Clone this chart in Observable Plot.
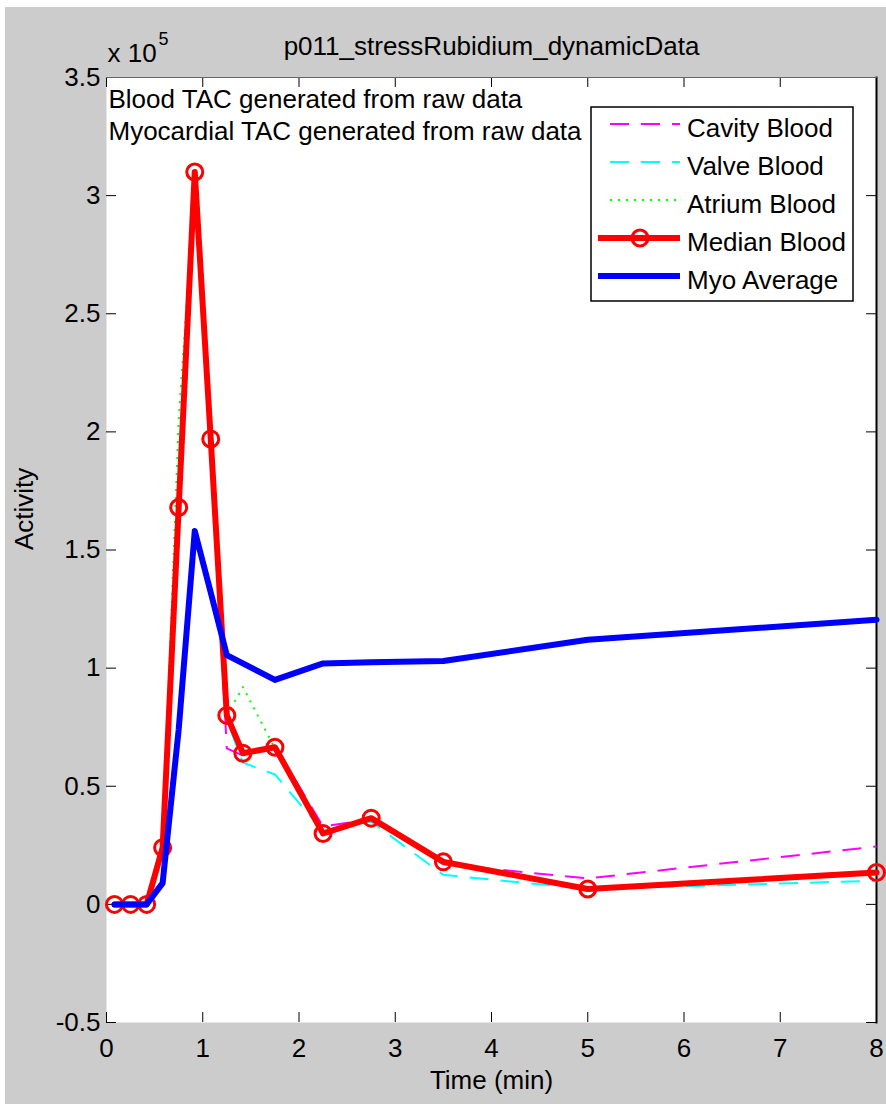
<!DOCTYPE html>
<html>
<head>
<meta charset="utf-8">
<script src="https://cdn.jsdelivr.net/npm/d3@7"></script>
<script src="https://cdn.jsdelivr.net/npm/@observablehq/plot@0.6"></script>
<style>
  html, body { margin: 0; padding: 0; background: #fff; }
  #chart { position: absolute; left: 5px; top: 7px; }
</style>
</head>
<body>
<div id="chart"></div>
<script>
// Frame mid-times (minutes)
const time = [0.083, 0.25, 0.417, 0.583, 0.75, 0.917, 1.083, 1.25, 1.417, 1.75, 2.25, 2.75, 3.5, 5, 8];

// Time-activity curves
const cavityBlood = [0, 0, 0, 24000, 170000, 308000, 195000, 66000, 63000, 67000, 33000, 36000, 17000, 11000, 24500];
const valveBlood  = [0, 0, 0, 24000, 166000, 305000, 195000, 78000, 60000, 55000, 31000, 35000, 12500, 6500, 10000];
const atriumBlood = [0, 0, 0, 24000, 205000, 305000, 197000, 80000, 92000, 66000, 31000, 36000, 17000, 7000, 13000];
const medianBlood = [0, 0, 0, 24000, 168000, 310000, 197000, 80000, 64000, 66500, 30000, 36500, 18000, 6500, 13500];
const myoAverage  = [0, 0, 0, 9000, 74000, 158000, 132000, 105500, 102000, 95000, 102000, 102500, 103000, 112000, 120500];

// Axis ticks and labels
const xTicks = [0, 1, 2, 3, 4, 5, 6, 7, 8];
const yTicks = [-50000, 0, 50000, 100000, 150000, 200000, 250000, 300000, 350000];

// Text
const titleText = "p011_stressRubidium_dynamicData";
const xLabel = "Time (min)";
const yLabel = "Activity";
const exponentBase = "x 10";
const exponent = "5";
const notes = ["Blood TAC generated from raw data", "Myocardial TAC generated from raw data"];
const legendLabels = ["Cavity Blood", "Valve Blood", "Atrium Blood", "Median Blood", "Myo Average"];

const rows = (vals) => time.map((t, i) => ({t, v: vals[i]}));

const W = 881, H = 1097;
const mTop = 70, mRight = 10, mBottom = 82, mLeft = 101;
const frameW = W - mLeft - mRight;
const frameH = H - mTop - mBottom;
const tickLen = 10;
const font = '"Liberation Sans", Arial, Helvetica, sans-serif';
const fs = 26;

const chart = Plot.plot({
  width: W,
  height: H,
  marginTop: mTop, marginRight: mRight, marginBottom: mBottom, marginLeft: mLeft,
  style: {background: "#cccccc", fontFamily: font, fontSize: fs + "px", color: "#000", overflow: "visible"},
  x: {domain: [0, 8]},
  y: {domain: [-50000, 350000]},
  marks: [
    Plot.frame({fill: "#fff", stroke: "none"}),
    // inward ticks on all four sides
    Plot.tickX(xTicks, {x: d => d, insetTop: frameH - tickLen, stroke: "#000"}),
    Plot.tickX(xTicks, {x: d => d, insetBottom: frameH - tickLen, stroke: "#000"}),
    Plot.tickY(yTicks, {y: d => d, insetRight: frameW - tickLen, stroke: "#000"}),
    Plot.tickY(yTicks, {y: d => d, insetLeft: frameW - tickLen, stroke: "#000"}),
    Plot.frame({anchor: "right", stroke: "#000", strokeWidth: 2}),
    Plot.frame({anchor: "top", stroke: "#666", strokeWidth: 1}),
    Plot.axisX({ticks: xTicks, tickSize: 0, tickPadding: 16, tickFormat: d => String(d), label: null, fontSize: fs, fill: "#000"}),
    Plot.axisY({ticks: yTicks, tickSize: 0, tickPadding: 6, tickFormat: d => String(d / 1e5), label: null, fontSize: fs, fill: "#000"}),
    // curves
    Plot.line(rows(cavityBlood), {x: "t", y: "v", stroke: "#ff00ff", strokeWidth: 2, strokeDasharray: "19,12", strokeLinecap: "butt"}),
    Plot.line(rows(valveBlood), {x: "t", y: "v", stroke: "#00ffff", strokeWidth: 2, strokeDasharray: "19,12", strokeLinecap: "butt"}),
    Plot.line(rows(atriumBlood), {x: "t", y: "v", stroke: "#00ff00", strokeWidth: 2, strokeDasharray: "2,6", strokeLinecap: "butt"}),
    Plot.line(rows(medianBlood), {x: "t", y: "v", stroke: "#ff0000", strokeWidth: 6}),
    Plot.dot(rows(medianBlood), {x: "t", y: "v", r: 8, stroke: "#ff0000", strokeWidth: 3, fill: "none"}),
    Plot.line(rows(myoAverage), {x: "t", y: "v", stroke: "#0000ff", strokeWidth: 6}),
    // titles and labels
    Plot.text([titleText], {frameAnchor: "top", dy: -23, lineAnchor: "bottom", fontSize: fs, fill: "#000"}),
    Plot.text([exponentBase], {frameAnchor: "top-left", dx: 1, dy: -16, lineAnchor: "bottom", textAnchor: "start", fontSize: fs, fill: "#000"}),
    Plot.text([exponent], {frameAnchor: "top-left", dx: 52, dy: -33, lineAnchor: "bottom", textAnchor: "start", fontSize: 18, fill: "#000"}),
    Plot.text([xLabel], {frameAnchor: "bottom", dy: 66, lineAnchor: "bottom", fontSize: fs, fill: "#000"}),
    Plot.text([yLabel], {frameAnchor: "left", dx: -82, rotate: -90, fontSize: fs, fill: "#000"}),
    Plot.text([notes[0]], {frameAnchor: "top-left", dx: 2, dy: 30, lineAnchor: "bottom", textAnchor: "start", fontSize: fs, fill: "#000"}),
    Plot.text([notes[1]], {frameAnchor: "top-left", dx: 2, dy: 62, lineAnchor: "bottom", textAnchor: "start", fontSize: fs, fill: "#000"})
  ]
});

document.getElementById("chart").appendChild(chart);

// Legend box
const svg = d3.select(chart);
const styles = [
  {stroke: "#ff00ff", width: 2, dash: "19,12"},
  {stroke: "#00ffff", width: 2, dash: "19,12"},
  {stroke: "#00ff00", width: 2, dash: "2,6"},
  {stroke: "#ff0000", width: 6, dash: null, marker: true},
  {stroke: "#0000ff", width: 6, dash: null}
];
const lg = svg.append("g").attr("font-family", font).attr("font-size", fs).attr("text-anchor", "start");
lg.append("rect")
  .attr("x", 586).attr("y", 100).attr("width", 262).attr("height", 194)
  .attr("fill", "#fff").attr("stroke", "#000").attr("stroke-width", 1.5);
legendLabels.forEach((label, i) => {
  const y = 117 + i * 38;
  const s = styles[i];
  const x0 = s.dash ? 605 : 593;
  lg.append("line")
    .attr("x1", x0).attr("x2", 675).attr("y1", y).attr("y2", y)
    .attr("stroke", s.stroke).attr("stroke-width", s.width)
    .attr("stroke-dasharray", s.dash);
  if (s.marker) {
    lg.append("circle").attr("cx", 635).attr("cy", y).attr("r", 8)
      .attr("fill", "none").attr("stroke", s.stroke).attr("stroke-width", 3);
  }
  lg.append("text").attr("x", 682).attr("y", y + 13).attr("text-anchor", "start").attr("fill", "#000").text(label);
});
</script>
</body>
</html>
